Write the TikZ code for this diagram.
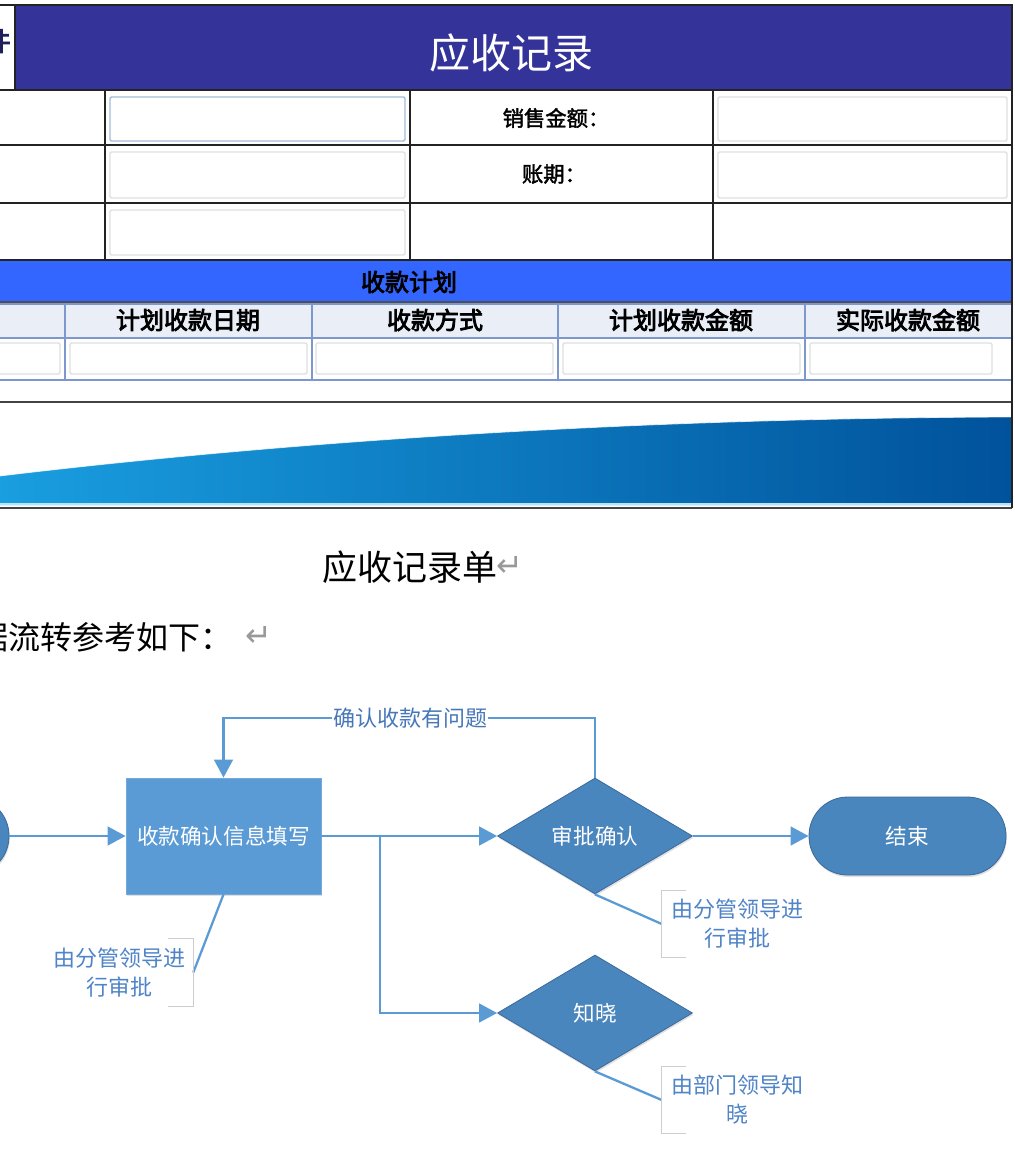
\documentclass[tikz,border=0pt]{standalone}
\usepackage{fontspec}
\usetikzlibrary{arrows.meta,shapes.geometric,shadows}
\setmainfont{Noto Sans CJK SC}
\newfontfamily\cjk{Noto Sans CJK SC}
\newfontfamily\cjkb[FakeBold=3.5]{Noto Sans CJK SC}
\newfontfamily\cjkm[FakeBold=1.8]{Noto Sans CJK SC}
\newfontfamily\dvs{DejaVu Sans}
\definecolor{hdrblue}{RGB}{51,51,153}
\definecolor{bandblue}{RGB}{51,102,255}
\definecolor{rowbg}{RGB}{233,238,247}
\definecolor{gridblue}{RGB}{125,152,205}
\definecolor{inpgray}{RGB}{220,223,227}
\definecolor{inpblue}{RGB}{160,188,216}
\definecolor{framegray}{RGB}{35,35,35}
\definecolor{boxblue}{RGB}{91,155,213}
\definecolor{dblue}{RGB}{74,134,190}
\definecolor{dborder}{RGB}{58,105,155}
\definecolor{connblue}{RGB}{91,155,213}
\definecolor{notetext}{RGB}{79,132,200}
\definecolor{lbltext}{RGB}{70,120,185}
\definecolor{brgray}{RGB}{205,205,205}
\definecolor{wavel}{RGB}{25,158,224}
\definecolor{waver}{RGB}{0,82,155}
\tikzset{
  frame/.style={draw=framegray, line width=1.1pt},
  grid/.style={draw=gridblue, line width=0.9pt},
  inp/.style={draw=inpgray, fill=white, line width=1.1pt, rounded corners=1pt},
  lbl/.style={font=\cjkm\fontsize{16pt}{18pt}\selectfont, inner sep=0pt},
  colhead/.style={font=\cjkb\fontsize{18pt}{20pt}\selectfont, inner sep=0pt},
  ret/.style={text=gray!80, font=\dvs\fontsize{24pt}{26pt}\selectfont, inner sep=0pt},
  softshadow/.style={drop shadow={shadow xshift=0.6pt, shadow yshift=-1.5pt, opacity=0.12, fill=black}},
  procbox/.style={rectangle, fill=boxblue, draw=boxblue!85!white, line width=0.6pt,
    minimum width=146.25pt, minimum height=87pt, inner sep=0pt, text=white,
    font=\cjk\fontsize{16.2pt}{18pt}\selectfont, softshadow},
  decision/.style={diamond, fill=dblue, draw=dborder, line width=0.6pt, aspect=1.68,
    minimum width=146.25pt, minimum height=87pt, inner sep=0pt, text=white,
    font=\cjk\fontsize{16.2pt}{18pt}\selectfont, softshadow},
  term/.style={rectangle, rounded corners=29pt, fill=dblue, draw=dborder, line width=0.6pt,
    minimum width=147.75pt, minimum height=58.5pt, inner sep=0pt, text=white,
    font=\cjk\fontsize{16.2pt}{18pt}\selectfont, softshadow},
  conn/.style={draw=connblue, line width=1.9pt, -{Triangle[length=13.5pt,width=14pt]}},
  annline/.style={draw=connblue, line width=1.7pt},
  bracket/.style={draw=brgray, line width=0.8pt},
  note/.style={text=notetext, font=\cjk\fontsize{16.5pt}{21.75pt}\selectfont, align=center, inner sep=0pt},
}
\begin{document}
\begin{tikzpicture}[x=0.75pt,y=-0.75pt]
\useasboundingbox (0,0) rectangle (1014,1160);
\clip (0,0) rectangle (1014,1160);
\fill[white] (0,0) rectangle (1014,1160);

% ---------- form header ----------
\fill[hdrblue] (15,5) rectangle (1012,90);
\node[text=white, font=\cjk\fontsize{30.75pt}{34pt}\selectfont, inner sep=0pt] (title) at (511,53) {应收记录};
\node[text=hdrblue!60!black, font=\cjkb\fontsize{19.5pt}{22pt}\selectfont, inner sep=0pt, anchor=east] (lefttag) at (11,41) {件};

% grid of top form
\draw[frame] (0,5) -- (1012,5) -- (1012,507);
\draw[frame] (15,5) -- (15,90);
\draw[frame] (0,90) -- (1012,90);
\draw[frame] (0,145) -- (1012,145);
\draw[frame] (0,203) -- (1012,203);
\draw[frame] (105,90) -- (105,260);
\draw[frame] (410,90) -- (410,260);
\draw[frame] (713,90) -- (713,260);

% inputs
\draw[inp, draw=inpblue] (110,97) rectangle (405,141);
\draw[inp] (110,152) rectangle (405,198);
\draw[inp] (110,210) rectangle (405,255);
\draw[inp] (718,97) rectangle (1007,141);
\draw[inp] (718,152) rectangle (1007,198);

\node[lbl] (lsales) at (556,118) {销售金额：};
\node[lbl] (lterm) at (554,174) {账期：};

% ---------- plan band ----------
\fill[bandblue] (0,260) rectangle (1012,302);
\draw[frame] (0,260) -- (1012,260);
\draw[draw=framegray!80, line width=1pt] (0,302) -- (1012,302);
\node[font=\cjkb\fontsize{18pt}{20pt}\selectfont, inner sep=0pt] (plan) at (409,282) {收款计划};

\fill[rowbg] (0,304) rectangle (1012,338);
\draw[grid] (0,304) -- (1012,304);
\draw[grid] (0,338) -- (1012,338);
\draw[grid] (0,380) -- (1012,380);
\foreach \xx in {65,312,558,805} { \draw[grid] (\xx,304) -- (\xx,380); }

\node[colhead] (h1) at (188,320) {计划收款日期};
\node[colhead] (h2) at (435,320) {收款方式};
\node[colhead] (h3) at (681,320) {计划收款金额};
\node[colhead] (h4) at (908,320) {实际收款金额};

\draw[inp] (-5,343) rectangle (60,374);
\draw[inp] (70,343) rectangle (307,374);
\draw[inp] (316,343) rectangle (553,374);
\draw[inp] (563,343) rectangle (800,374);
\draw[inp] (810,343) rectangle (992,374);

% ---------- wave ----------
\draw[draw=framegray!85, line width=1.5pt] (0,402) -- (1012,402);
\shade[left color=wavel, right color=waver]
  (0,476) .. controls (300,440) and (650,418) .. (1012,417) -- (1012,505) -- (0,505) -- cycle;
\draw[white, line width=0.6pt, opacity=0.7] (0,476) .. controls (300,440) and (650,418) .. (1012,417);
\draw[draw=cyan!30, line width=0.8pt] (0,504) -- (1012,504);
\draw[draw=framegray!85, line width=1.5pt] (0,507.5) -- (1012,507.5);
\draw[frame] (1012,5) -- (1012,508);

% ---------- document text ----------
\node[font=\cjk\fontsize{26.25pt}{30pt}\selectfont, inner sep=0pt] (cap) at (409.5,567) {应收记录单};
\node[ret] (ret1) at (510,566) {↵};
\node[font=\cjk\fontsize{24pt}{28pt}\selectfont, inner sep=0pt, anchor=west] (flowtxt) at (-24,637) {据流转参考如下：};
\node[ret] (ret2) at (259,636) {↵};

% ---------- flowchart ----------
\node[term] (start) at (-89.5,836) {};
\node[procbox] (box) at (223.5,836) {收款确认信息填写};
\node[decision] (d1) at (595,836) {审批确认};
\node[decision] (d2) at (595,1013) {知晓};
\node[term] (end) at (907.5,836) {结束};

\coordinate (split) at (380,836);
\coordinate (loopL) at (223.5,718);

\draw[conn] (start.east) -- (box.west);
\draw[conn] (box.east) -- (d1.west);
\draw[conn] (split) |- (d2.west);
\draw[conn] (d1.east) -- (end.west);
\draw[conn] (d1.north) |- (loopL) -- (box.north);
\node[fill=white, text=lbltext, font=\cjk\fontsize{16.5pt}{18pt}\selectfont, inner sep=1pt] (loopLabel) at (410,718) {确认收款有问题};

% annotations
\node[note, minimum width=111pt, minimum height=50.25pt] (n1) at (119,972.5) {由分管领导进\\行审批};
\node[note, minimum width=112.5pt, minimum height=49.5pt] (n2) at (737,924) {由分管领导进\\行审批};
\node[note, minimum width=112.5pt, minimum height=49.5pt] (n3) at (737,1100) {由部门领导知\\晓};

\draw[annline] (box.south) -- (n1.east);
\draw[annline] (d1.south) -- (n2.west);
\draw[annline] (d2.south) -- (n3.west);

\draw[bracket] ([xshift=-18.75pt]n1.north east) -- (n1.north east) -- (n1.south east) -- ([xshift=-18.75pt]n1.south east);
\draw[bracket] ([xshift=18pt]n2.north west) -- (n2.north west) -- (n2.south west) -- ([xshift=18pt]n2.south west);
\draw[bracket] ([xshift=18pt]n3.north west) -- (n3.north west) -- (n3.south west) -- ([xshift=18pt]n3.south west);
\end{tikzpicture}
\end{document}
